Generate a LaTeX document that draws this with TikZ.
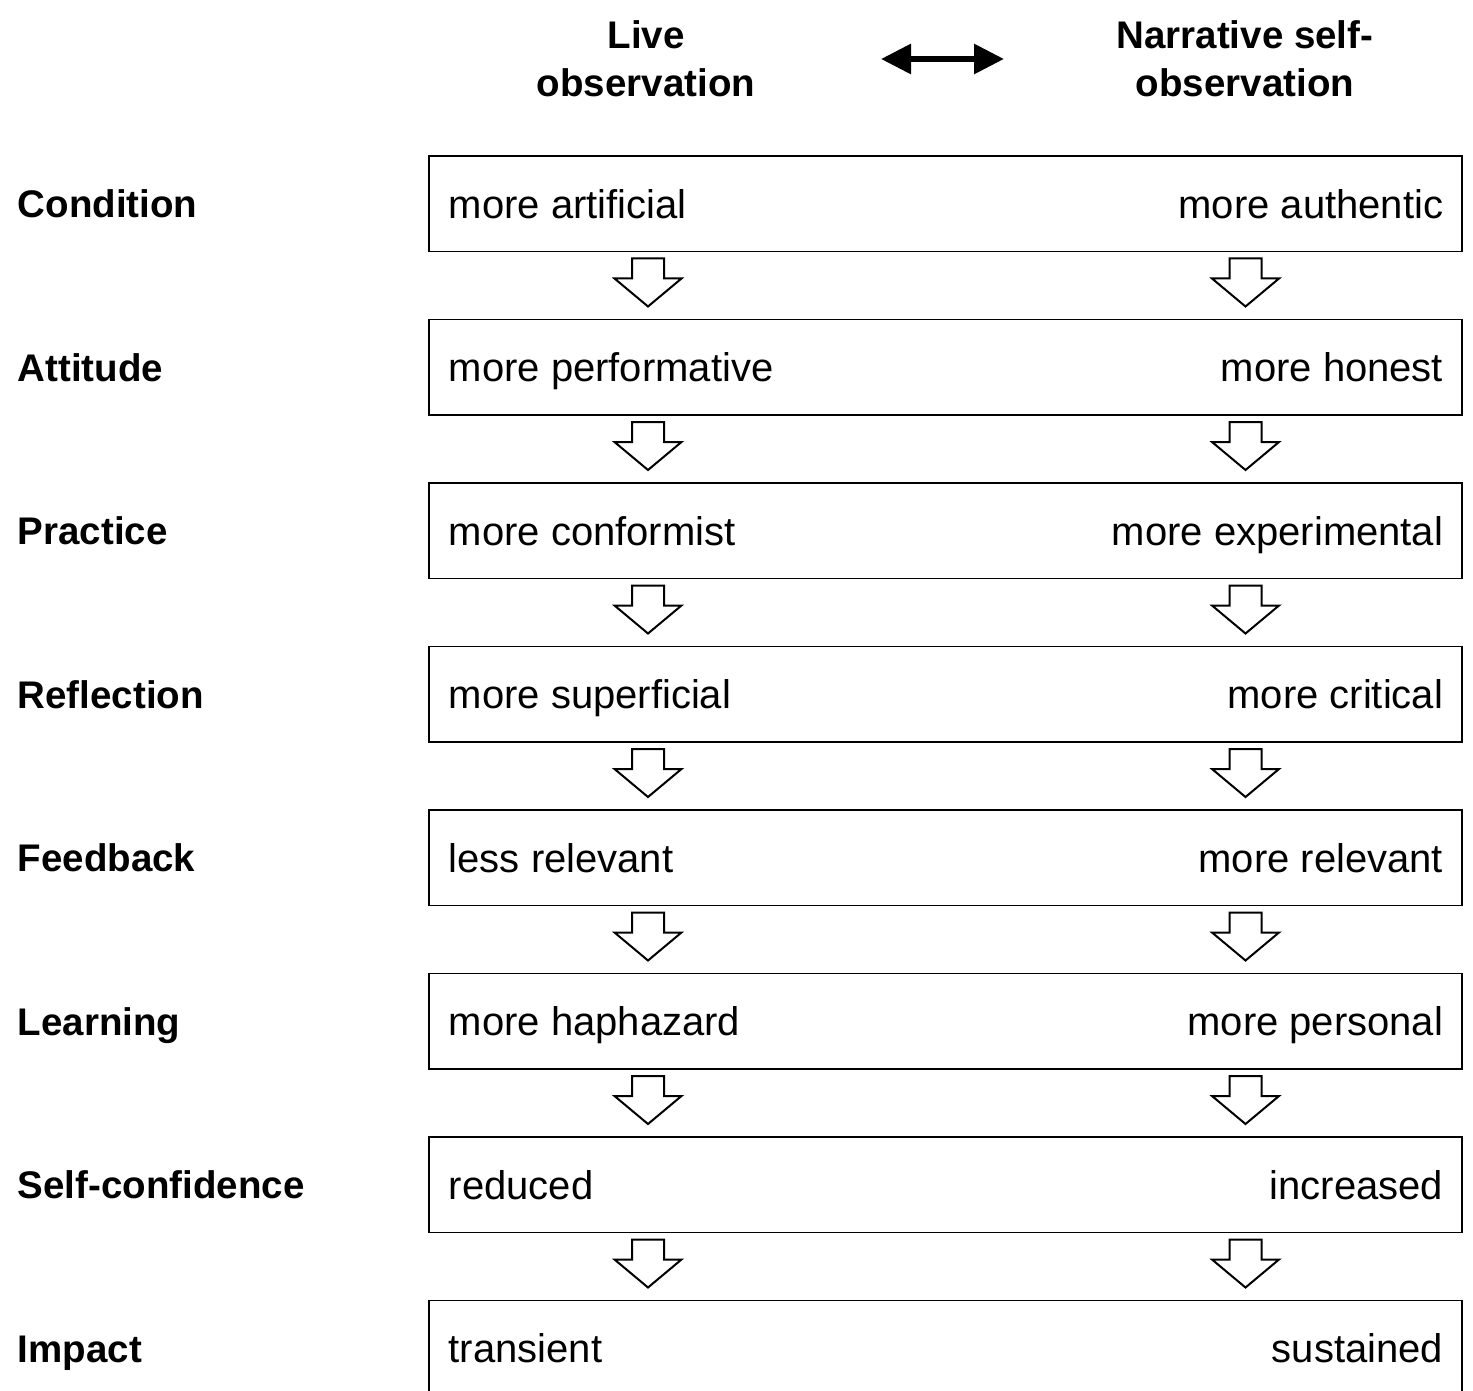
\documentclass[tikz,border=0pt]{standalone}
\usepackage{fontspec}
\setmainfont{Liberation Sans}
\usepackage{tikz}
\usetikzlibrary{positioning,arrows.meta}
\tikzset{every picture/.style={line width=0.75pt}}
\tikzset{
  rowbox/.style={draw, line width=0.9pt, minimum width=516.5pt, minimum height=47.75pt, inner sep=0pt},
  pole/.style={font=\fontsize{20}{24}\selectfont, inner sep=0pt, text height=14.3pt, text depth=0pt},
  rowlabel/.style={font=\bfseries\fontsize{19.25}{24}\selectfont, inner sep=0pt, text height=13.8pt, text depth=0pt, anchor=west},
  colhead/.style={font=\bfseries\fontsize{19.25}{24}\selectfont, align=center, inner sep=0pt},
  dblarrow/.style={line width=3pt, {Triangle[length=15pt,width=14.5pt]}-{Triangle[length=15pt,width=14.5pt]}},
  flow/.pic={\draw[line width=1pt, line join=miter] (-16,0) -- (16,0) -- (16,-20) -- (33.5,-20) -- (0,-48) -- (-33.5,-20) -- (-16,-20) -- cycle;}
}

\begin{document}
\begin{tikzpicture}[x=0.5pt,y=0.5pt,yscale=-1,xscale=1]
\useasboundingbox (0,0) rectangle (1473,1391);
\clip (0,0) rectangle (1473,1391);

%Column heads
\node[colhead] (live) at (646,59) {Live\\observation};
\node[colhead] (narr) at (1245,59) {Narrative self-\\observation};
\coordinate (dl) at (881,59);
\coordinate (dr) at (1004,59);
\draw[dblarrow] (dl) -- (dr);

%Condition
\node[rowlabel] (cond-lab) at (17,203.75) {Condition};
\node[rowbox] (cond) at (945.5,203.75) {};
\node[pole, right=10pt of cond.west] (cond-l) {more artificial};
\node[pole, left=9.5pt of cond.east] (cond-r) {more authentic};

%Attitude
\node[rowlabel] (att-lab) at (17,367.25) {Attitude};
\node[rowbox] (att) at (945.5,367.25) {};
\node[pole, right=10pt of att.west] (att-l) {more performative};
\node[pole, left=9.5pt of att.east] (att-r) {more honest};

%Practice
\node[rowlabel] (prac-lab) at (17,530.75) {Practice};
\node[rowbox] (prac) at (945.5,530.75) {};
\node[pole, right=10pt of prac.west] (prac-l) {more conformist};
\node[pole, left=9.5pt of prac.east] (prac-r) {more experimental};

%Reflection
\node[rowlabel] (refl-lab) at (17,694.25) {Reflection};
\node[rowbox] (refl) at (945.5,694.25) {};
\node[pole, right=10pt of refl.west] (refl-l) {more superficial};
\node[pole, left=9.5pt of refl.east] (refl-r) {more critical};

%Feedback
\node[rowlabel] (fb-lab) at (17,857.75) {Feedback};
\node[rowbox] (fb) at (945.5,857.75) {};
\node[pole, right=10pt of fb.west] (fb-l) {less relevant};
\node[pole, left=9.5pt of fb.east] (fb-r) {more relevant};

%Learning
\node[rowlabel] (learn-lab) at (17,1021.25) {Learning};
\node[rowbox] (learn) at (945.5,1021.25) {};
\node[pole, right=10pt of learn.west] (learn-l) {more haphazard};
\node[pole, left=9.5pt of learn.east] (learn-r) {more personal};

%Self-confidence
\node[rowlabel] (conf-lab) at (17,1184.75) {Self-confidence};
\node[rowbox] (conf) at (945.5,1184.75) {};
\node[pole, right=10pt of conf.west] (conf-l) {reduced};
\node[pole, left=9.5pt of conf.east] (conf-r) {increased};

%Impact
\node[rowlabel] (imp-lab) at (17,1348.25) {Impact};
\node[rowbox] (imp) at (945.5,1348.25) {};
\node[pole, right=10pt of imp.west] (imp-l) {transient};
\node[pole, left=9.5pt of imp.east] (imp-r) {sustained};

%Block arrows, left column
\pic at (648,258.5) {flow};
\pic at (648,422) {flow};
\pic at (648,585.5) {flow};
\pic at (648,749) {flow};
\pic at (648,912.5) {flow};
\pic at (648,1076) {flow};
\pic at (648,1239.5) {flow};
%Block arrows, right column
\pic at (1245.5,258.5) {flow};
\pic at (1245.5,422) {flow};
\pic at (1245.5,585.5) {flow};
\pic at (1245.5,749) {flow};
\pic at (1245.5,912.5) {flow};
\pic at (1245.5,1076) {flow};
\pic at (1245.5,1239.5) {flow};

\end{tikzpicture}
\end{document}
